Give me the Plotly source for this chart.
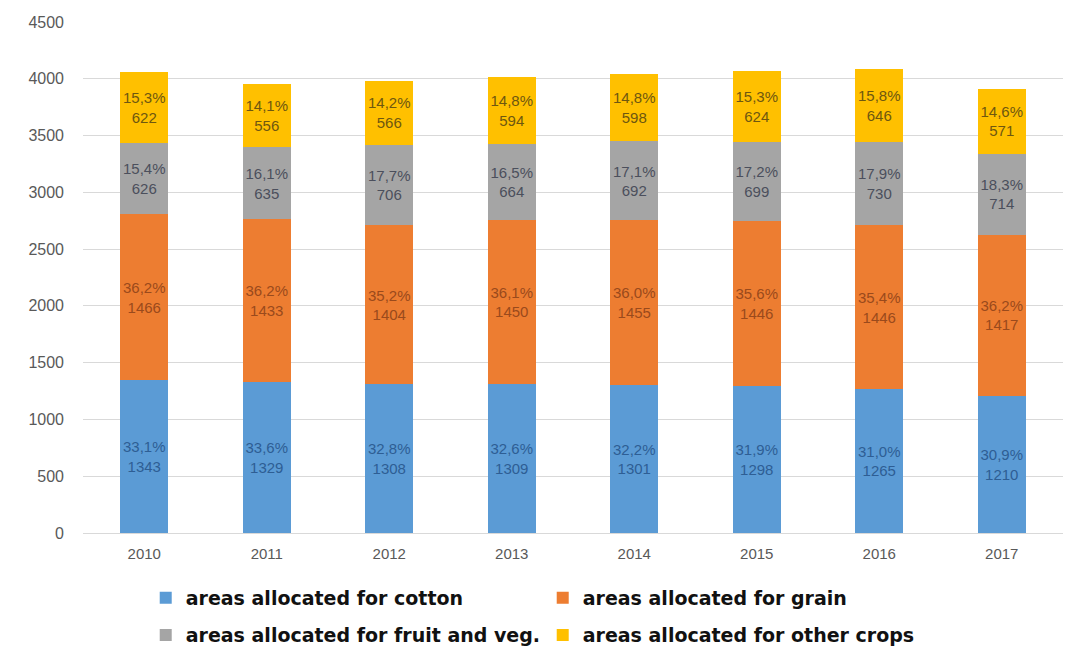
import plotly.graph_objects as go

years = ["2010", "2011", "2012", "2013", "2014", "2015", "2016", "2017"]
cotton = [1343, 1329, 1308, 1309, 1301, 1298, 1265, 1210]
grain = [1466, 1433, 1404, 1450, 1455, 1446, 1446, 1417]
fruitveg = [626, 635, 706, 664, 692, 699, 730, 714]
other = [622, 556, 566, 594, 598, 624, 646, 571]

cotton_pct = ["33,1%", "33,6%", "32,8%", "32,6%", "32,2%", "31,9%", "31,0%", "30,9%"]
grain_pct = ["36,2%", "36,2%", "35,2%", "36,1%", "36,0%", "35,6%", "35,4%", "36,2%"]
fruitveg_pct = ["15,4%", "16,1%", "17,7%", "16,5%", "17,1%", "17,2%", "17,9%", "18,3%"]
other_pct = ["15,3%", "14,1%", "14,2%", "14,8%", "14,8%", "15,3%", "15,8%", "14,6%"]

series = [
    ("areas allocated for cotton", cotton, cotton_pct, "#5B9BD5", "#2E5E94", "legend"),
    ("areas allocated for grain", grain, grain_pct, "#ED7D31", "#9A4A1C", "legend"),
    ("areas allocated for fruit and veg.", fruitveg, fruitveg_pct, "#A5A5A5", "#4B4F5C", "legend2"),
    ("areas allocated for other crops", other, other_pct, "#FFC000", "#6E5710", "legend2"),
]

fig = go.Figure()
for name, vals, pcts, color, tcolor, leg in series:
    fig.add_trace(go.Bar(
        x=years, y=vals, name=name, legend=leg,
        marker=dict(color=color, line=dict(width=0)),
        text=[f"{p}<br>{v}" for p, v in zip(pcts, vals)],
        textposition="inside", insidetextanchor="middle", textangle=0,
        textfont=dict(family="Liberation Sans Narrow, Liberation Sans, sans-serif", size=15, color=tcolor),
        hoverinfo="skip",
    ))

leg_common = dict(
    orientation="h", xanchor="left", yanchor="middle",
    entrywidth=352, entrywidthmode="pixels",
    font=dict(family="DejaVu Sans, sans-serif", size=19, color="#111111", weight="bold"),
    itemwidth=30, traceorder="normal", bgcolor="rgba(0,0,0,0)",
)

fig.update_layout(
    barmode="stack",
    bargap=0.61,
    width=1080, height=655,
    margin=dict(l=83, r=17, t=22, b=122, autoexpand=False),
    plot_bgcolor="white", paper_bgcolor="white",
    uniformtext=dict(mode="show", minsize=15),
    font=dict(family="Liberation Sans, sans-serif", color="#595959"),
    legend=dict(x=0.064, y=-0.127, **leg_common),
    legend2=dict(x=0.064, y=-0.200, **leg_common),
    showlegend=True,
)
fig.update_xaxes(
    type="category", showgrid=False, showline=False, ticks="",
    tickfont=dict(size=15, color="#595959"), ticklabelstandoff=10,
)
fig.update_yaxes(
    range=[0, 4500], dtick=500, showgrid=True, gridcolor="#D9D9D9", gridwidth=1,
    zeroline=True, zerolinecolor="#D9D9D9", zerolinewidth=1,
    tickfont=dict(size=16, color="#595959"), ticks="", ticklabelstandoff=18,
)

fig.write_html("out.html")
